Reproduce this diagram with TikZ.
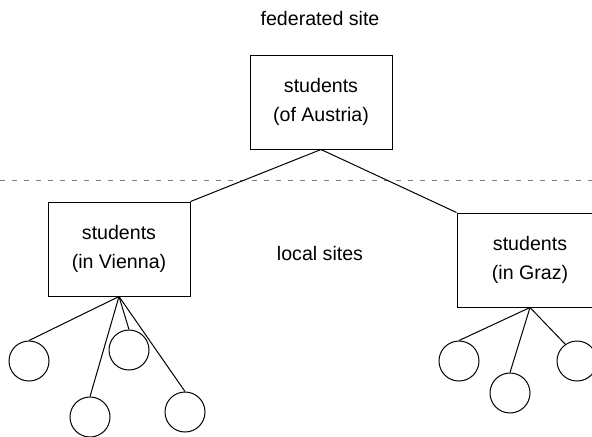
\documentclass[tikz,border=0pt]{standalone}
\usepackage{fontspec}
\setmainfont{Liberation Sans}
\usepackage{tikz}
\tikzset{
    sitebox/.style={shape=rectangle, draw=black, line width=0.5pt, minimum width=71pt, minimum height=47pt, align=center, font=\fontsize{9.8}{14.5}\selectfont},
    leaf/.style={shape=circle, draw=black, line width=0.5pt, minimum size=20pt, inner sep=0pt},
    link/.style={line width=0.5pt},
    sitelabel/.style={font=\fontsize{9.8}{14.5}\selectfont}}

\begin{document}
\begin{tikzpicture}[x=0.5pt, y=-0.5pt]
        \useasboundingbox (0,0) rectangle (592,436);

                    \node[sitelabel] (fed) at (320,18) {federated site};
                    \node[sitelabel] (loc) at (320,253) {local sites};

                    \node[sitebox] (austria) at (321,102) {students\\(of Austria)};
                    \node[sitebox] (vienna) at (119,249) {students\\(in Vienna)};
                    \node[sitebox, minimum width=73pt] (graz) at (530,260) {students\\(in Graz)};

                    \coordinate (dl) at (0,180);
                    \coordinate (dr) at (592,180);
                    \draw[link, gray, dash pattern=on 2.5pt off 3.5pt] (dl) -- (dr);

                    \draw[link] (austria.south) -- (vienna.north east);
                    \draw[link] (austria.south) -- (graz.north west);

                    \node[leaf] (v1) at (29,361) {};
                    \node[leaf] (v2) at (129,350) {};
                    \node[leaf] (v3) at (90,417) {};
                    \node[leaf] (v4) at (185,412) {};

                    \node[leaf] (g1) at (459,361) {};
                    \node[leaf] (g2) at (510,393) {};
                    \node[leaf] (g3) at (577,361) {};

                    \foreach \c in {v1,v2,v3,v4}
                        \draw[link] (vienna.south) -- (\c.north);
                    \foreach \c in {g1,g2}
                        \draw[link] (graz.south) -- (\c.north);
                    \draw[link] (graz.south) -- (g3.125);

                \end{tikzpicture}
\end{document}
